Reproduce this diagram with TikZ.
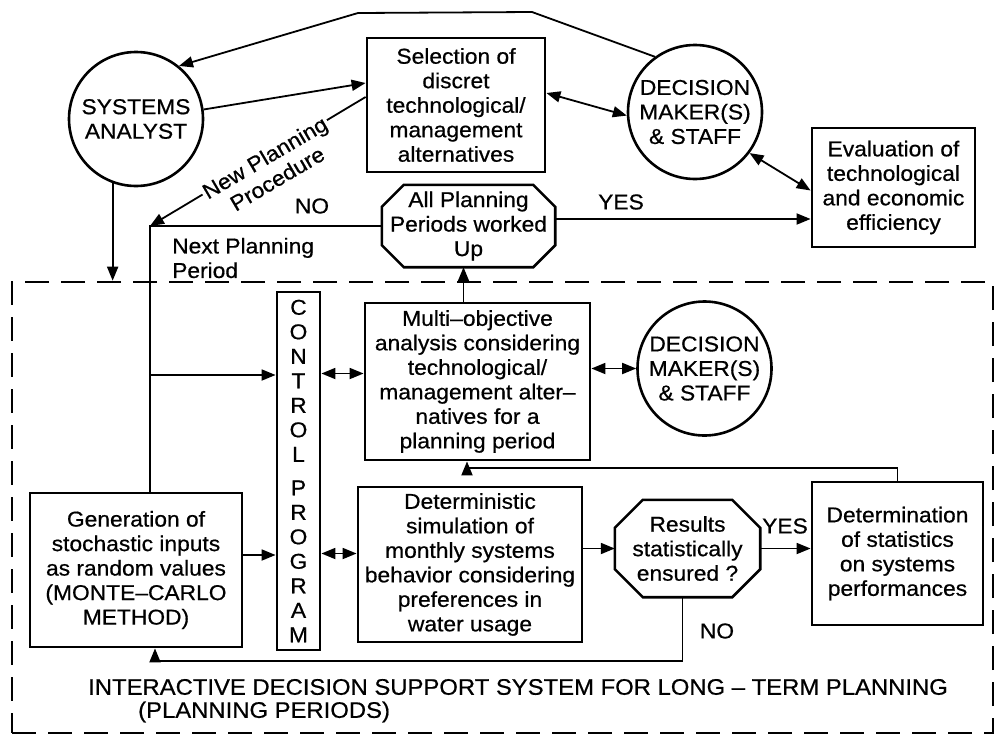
\documentclass[tikz,border=0pt]{standalone}
\usepackage{fontspec}
\setmainfont{Liberation Sans}[FakeStretch=1.06,FakeBold=0.6]
\usetikzlibrary{arrows.meta,calc}
\newcommand{\drawocta}[2]{\draw[line width=2.6pt] ([xshift=#2]#1.north west) -- ([xshift=-#2]#1.north east) -- ([yshift=-#2]#1.north east) -- ([yshift=#2]#1.south east) -- ([xshift=-#2]#1.south east) -- ([xshift=#2]#1.south west) -- ([yshift=#2]#1.south west) -- ([yshift=-#2]#1.north west) -- cycle;}
\begin{document}
\begin{tikzpicture}[x=1pt,y=-1pt,
  every node/.style={font=\fontsize{21.5}{24.5}\selectfont, inner sep=0pt, align=center},
  box/.style={draw, line width=2.8pt, rectangle},
  circ/.style={draw, line width=2.6pt, circle, minimum size=134pt},
  conn/.style={line width=1.8pt},
  oneway/.style={-{Triangle[length=14pt,width=11pt]}},
  twoway/.style={{Triangle[length=14pt,width=11pt]}-{Triangle[length=14pt,width=11pt]}},
  frame/.style={draw, line width=2.6pt, dash pattern=on 24pt off 12pt}
]
\fill[white] (0,0) rectangle (999,737);
\useasboundingbox (0,0) rectangle (999,737);

% nodes
\node[circ] (sa) at (136,119) {SYSTEMS\\ANALYST};
\node[box, minimum width=178pt, minimum height=134pt] (sel) at (456,105) {Selection of\\discret\\technological/\\management\\alternatives};
\node[circ] (dm1) at (695,112) {DECISION\\MAKER(S)\\\& STAFF};
\node[box, minimum width=163pt, minimum height=119pt] (eval) at (893.5,187.5) {Evaluation of\\technological\\and economic\\efficiency};
\node[minimum width=173pt, minimum height=82pt] (allp) at (468.5,226) {All Planning\\Periods worked\\Up};
\drawocta{allp}{22pt}

\node[frame, minimum width=981pt, minimum height=451pt] (frame) at (502.5,507.5) {};

\node[box, minimum width=43pt, minimum height=358pt] (ctrl) at (298.5,471) {C\\O\\N\\T\\R\\O\\L\\[9pt]P\\R\\O\\G\\R\\A\\M};
\node[box, minimum width=225pt, minimum height=157pt] (multi) at (477.5,381.5) {Multi–objective\\analysis considering\\technological/\\management alter–\\natives for a\\planning period};
\node[circ] (dm2) at (704.5,368.5) {DECISION\\MAKER(S)\\\& STAFF};
\node[box, minimum width=212pt, minimum height=154pt] (gen) at (136,570) {Generation of\\stochastic inputs\\as random values\\(MONTE–CARLO\\METHOD)};
\node[box, minimum width=224pt, minimum height=155pt] (det) at (470,564.5) {Deterministic\\simulation of\\monthly systems\\behavior considering\\preferences in\\water usage};
\node[minimum width=145pt, minimum height=97pt] (res) at (687.5,548.5) {Results\\statistically\\ensured ?};
\drawocta{res}{28pt}
\node[box, minimum width=171pt, minimum height=143pt] (detm) at (897.5,553.5) {Determination\\of statistics\\on systems\\performances};

% labels
\node (yes1) at (621,202) {YES};
\node (no1) at (312,206) {NO};
\node (yes2) at (785,526) {YES};
\node (no2) at (717,631) {NO};
\node[anchor=west, align=left] (next) at (172,258) {Next Planning\\Period};
\node[anchor=west, font=\fontsize{22.5}{26}\selectfont] (t1) at (88,687) {INTERACTIVE DECISION SUPPORT SYSTEM FOR LONG – TERM PLANNING};
\node[anchor=west, font=\fontsize{22.5}{26}\selectfont] (t2) at (138,712) {(PLANNING PERIODS)};

% connectors
\coordinate (tA) at (532,12);
\coordinate (tB) at (358,13);
\draw[conn, oneway] (dm1.126) -- (tA) -- (tB) -- (sa.51);
\draw[conn, oneway] (sa.8) -- ([yshift=22pt]sel.west);
\coordinate (np) at (150,226);
\coordinate (jn) at (150,375);
\draw[conn, oneway] ([yshift=8pt]sel.west) -- (np);
\node[fill=white, rotate=30.5, inner sep=2pt] (nplbl) at (271,168) {New Planning\\Procedure};
\draw[conn] (allp.west) -- (np) -- (jn);
\draw[conn, oneway] (jn) -- (jn -| ctrl.west);
\draw[conn] (jn) -- (jn |- gen.north);
\draw[conn, oneway] (sa.250) -- (sa.250 |- frame.north);
\draw[conn, twoway] ([yshift=12pt]sel.east) -- (dm1.183);
\draw[conn, twoway] (dm1.-37) -- ([yshift=-3pt]eval.west);
\draw[conn, oneway] ([yshift=7pt]allp.east) -- ([yshift=7pt]allp.east -| eval.west);
\draw[conn, oneway] ([xshift=-5pt]allp.south |- multi.north) -- ([xshift=-5pt]allp.south);
\draw[conn, twoway] ([yshift=8pt]multi.west -| ctrl.east) -- ([yshift=8pt]multi.west);
\draw[conn, twoway] (dm2.west -| multi.east) -- (dm2.west);
\draw[conn, oneway] ([yshift=15pt]gen.east) -- ([yshift=15pt]gen.east -| ctrl.west);
\draw[conn, twoway] ([yshift=11pt]det.west -| ctrl.east) -- ([yshift=11pt]det.west);
\draw[conn, oneway] (res.west -| det.east) -- (res.west);
\draw[conn, oneway] (res.east) -- (res.east -| detm.west);
\coordinate (fbk) at (467,468);
\draw[conn, oneway] (detm.north) |- (fbk) -- (fbk |- multi.south);
\coordinate (nb) at (155,661);
\draw[conn, oneway] ([xshift=-5pt]res.south) |- (nb) -- (nb |- gen.south);
\end{tikzpicture}
\end{document}
